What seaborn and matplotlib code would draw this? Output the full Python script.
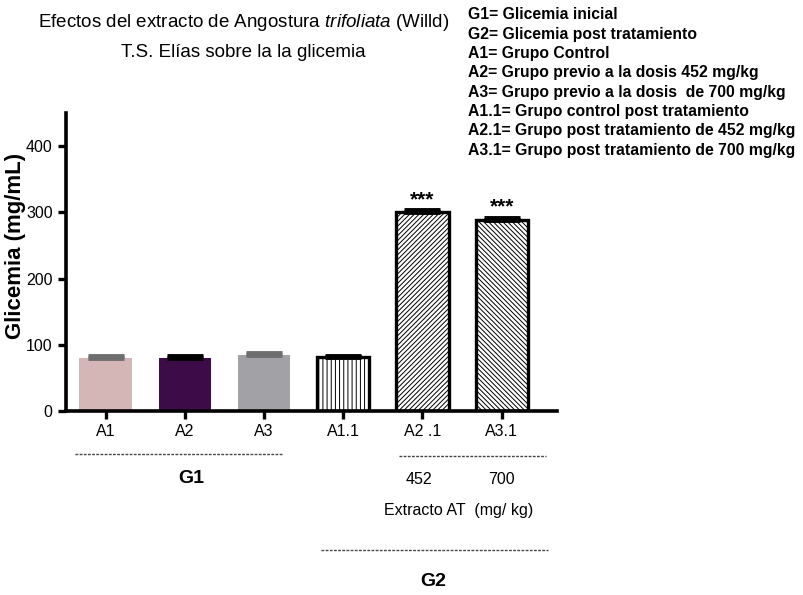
import matplotlib

matplotlib.use("Agg")

import matplotlib.pyplot as plt  # noqa: E402
import numpy as np  # noqa: E402
import pandas as pd  # noqa: E402
import seaborn as sns  # noqa: E402

# Datos
grupos = ["A1", "A2", "A3", "A1.1", "A2 .1", "A3.1"]
glicemia = [80, 80, 85, 82, 300, 289]
error = [3, 3, 3, 2, 3, 3]
colores = ["#d8b2b0", "#430252", "#a2a1a5", "white", "white", "white"]
tramas = ["", "", "", "||||", "///////", "\\\\\\\\\\\\\\"]
bordes = ["none", "none", "none", "black", "black", "black"]
color_error = ["#6e6e6e", "black", "#6e6e6e", "black", "black", "black"]
estrellas = ["", "", "", "", "***", "***"]
leyenda = [
    "G1= Glicemia inicial",
    "G2= Glicemia post tratamiento",
    "A1= Grupo Control",
    "A2= Grupo previo a la dosis 452 mg/kg",
    "A3= Grupo previo a la dosis  de 700 mg/kg",
    "A1.1= Grupo control post tratamiento",
    "A2.1= Grupo post tratamiento de 452 mg/kg",
    "A3.1= Grupo post tratamiento de 700 mg/kg",
]
dosis = ["452", "700"]

ARIAL = ["Liberation Sans", "DejaVu Sans"]

sns.set_style("ticks")
plt.rcParams["font.family"] = ARIAL
plt.rcParams["mathtext.fontset"] = "custom"
plt.rcParams["mathtext.it"] = "Liberation Sans:italic"
plt.rcParams["mathtext.rm"] = "Liberation Sans"
plt.rcParams["hatch.linewidth"] = 0.7
plt.rcParams["hatch.color"] = "black"
for clave in ("text.color", "axes.labelcolor", "xtick.color", "ytick.color",
              "axes.edgecolor"):
    plt.rcParams[clave] = "black"

df = pd.DataFrame({"grupo": grupos, "glicemia": glicemia})

fig = plt.figure(figsize=(8.04, 5.95), dpi=100)
ax = fig.add_axes([0.082, 0.309, 0.611, 0.501])

sns.barplot(data=df, x="grupo", y="glicemia", hue="grupo", palette=colores,
            legend=False, width=0.66, ax=ax, errorbar=None)

for barra, trama, borde in zip(ax.patches, tramas, bordes):
    barra.set_hatch(trama)
    if borde == "none":
        barra.set_linewidth(0)
    else:
        barra.set_edgecolor(borde)
        barra.set_linewidth(2.4)

xs = np.arange(len(grupos))
for x, y, e, c, s in zip(xs, glicemia, error, color_error, estrellas):
    ax.errorbar(x, y, yerr=[[0], [e]], fmt="none", ecolor=c,
                elinewidth=2, capsize=13, capthick=3.5, zorder=5)
    if s:
        ax.text(x, y + e + 2, s, ha="center", va="bottom", fontsize=15,
                fontweight="bold")

ax.set_xlim(-0.5, 5.7)
ax.set_ylim(0, 450)
ax.set_yticks([0, 100, 200, 300, 400])
ax.set_xlabel("")
ax.set_ylabel("Glicemia (mg/mL)", fontsize=16, fontweight="bold")
ax.yaxis.set_label_coords(-0.082, 0.554)
sns.despine(ax=ax)
for lado in ("left", "bottom"):
    ax.spines[lado].set_linewidth(2.6)
ax.tick_params(axis="both", width=2.4, length=6, labelsize=11.5)

# Anotaciones bajo el eje
tr = ax.get_xaxis_transform()
lin = dict(transform=tr, clip_on=False, color="#444444", lw=1,
           ls=(0, (2, 1)))
ax.plot([-0.38, 2.24], [-0.145, -0.145], **lin)
ax.plot([3.71, 5.56], [-0.152, -0.152], **lin)
ax.plot([2.72, 5.58], [-0.465, -0.465], **lin)
ax.text(1.08, -0.225, "G1", transform=tr, ha="center", va="center",
        fontsize=14, fontweight="bold")
ax.text(4.14, -0.57, "G2", transform=tr, ha="center", va="center",
        fontsize=14, fontweight="bold")
for x, d in zip([3.95, 5], dosis):
    ax.text(x, -0.23, d, transform=tr, ha="center", va="center",
            fontsize=11.5)
ax.text(4.46, -0.332, "Extracto AT  (mg/ kg)", transform=tr, ha="center",
        va="center", fontsize=11.5)

# Título
fig.text(0.303, 0.963, "Efectos del extracto de Angostura $\\it{trifoliata}$ (Willd)",
         ha="center", va="center", fontsize=13.5)
fig.text(0.303, 0.911, "T.S. Elías sobre la la glicemia",
         ha="center", va="center", fontsize=13.5)

# Leyenda de texto
for i, linea in enumerate(leyenda):
    fig.text(0.582, 0.975 - i * 0.0325, linea, ha="left", va="center",
             fontsize=11.3, fontweight="bold")

fig.savefig("out.png", dpi=100)
